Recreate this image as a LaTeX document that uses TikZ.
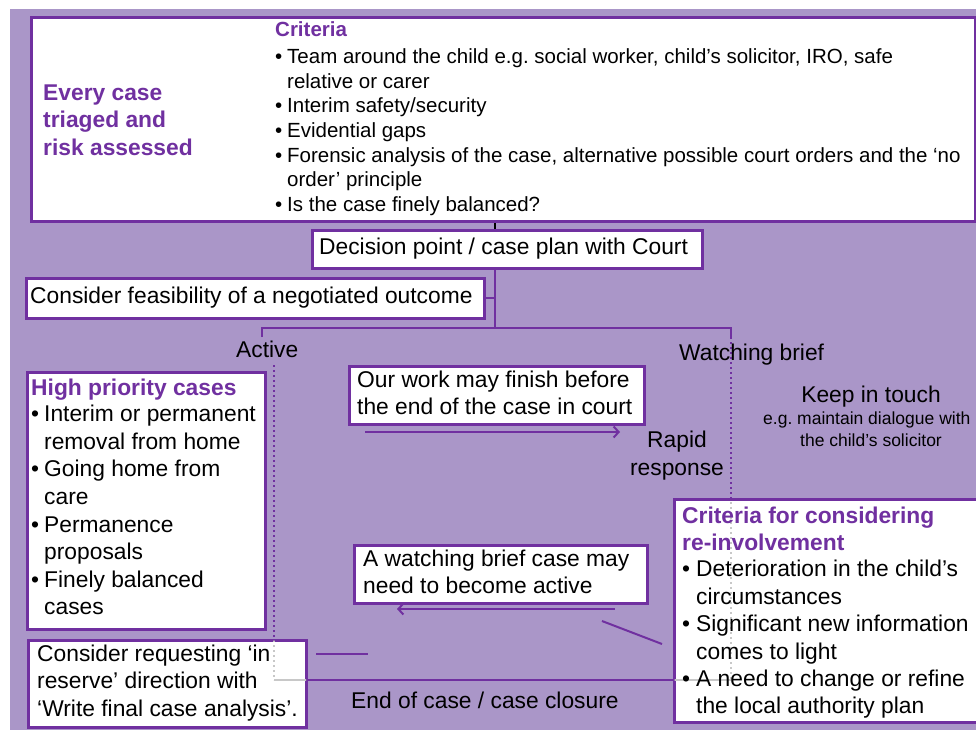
\documentclass[tikz,border=0pt]{standalone}
\usepackage{fontspec}
\setmainfont{Liberation Sans}
\usetikzlibrary{arrows.meta}
\frenchspacing

\definecolor{bgLav}{RGB}{170,150,200}
\definecolor{deepP}{RGB}{112,48,160}
\definecolor{shadeG}{RGB}{200,200,200}

\newcommand\bigtxt{\fontsize{22.8}{27.5}\selectfont}
\newcommand\midtxt{\fontsize{20.5}{24.7}\selectfont}
\newcommand\smalltxt{\fontsize{17.5}{22.5}\selectfont}
\newcommand\bul[1]{\makebox[#1][l]{•}}

\begin{document}
\begin{tikzpicture}[x=1pt,y=-1pt,
  box/.style={draw=deepP, line width=2.6pt, fill=white, inner sep=0pt,
              anchor=north west, shape=rectangle},
  conn/.style={draw=deepP, line width=2pt},
  dotline/.style={draw=deepP, line width=2pt, dash pattern=on 2pt off 3pt},
  greyline/.style={draw=shadeG, line width=2pt},
  greydot/.style={draw=shadeG, line width=2pt, dash pattern=on 2pt off 3pt},
  txt/.style={inner sep=0pt, anchor=base west},
  ctxt/.style={inner sep=0pt, anchor=base},
  head/.style={text=deepP, font=\bfseries},
  arr/.style={conn, -{Straight Barb[length=5pt,width=11pt,line width=2pt]}}]

\useasboundingbox (0,0) rectangle (976,729);
\clip (0,0) rectangle (976,729);

% background panel
\fill[bgLav] (10,9) rectangle (980,735);

% fixed points of the connectors
\coordinate (trunk) at (495,0);
\coordinate (split) at (495,328);
\coordinate (actStub) at (262,337);
\coordinate (watchStub) at (731,337);
\coordinate (actDot) at (274,365);
\coordinate (loopL) at (274,680);
\coordinate (loopR) at (731,680);
\coordinate (dashA) at (316,654);
\coordinate (dashB) at (368,654);
\coordinate (slantA) at (602,621);
\coordinate (slantB) at (662,644);
\coordinate (fwdA) at (365,432);
\coordinate (fwdB) at (620,432);
\coordinate (backA) at (615,609);
\coordinate (backB) at (397,609);

% boxes
\node[box, line width=3pt, minimum width=944pt, minimum height=204pt] (triage) at (30,16) {};
\node[box, minimum width=390pt, minimum height=38pt] (decision) at (311,229) {};
\node[box, minimum width=458pt, minimum height=40pt] (feasible) at (25,277) {};

% connectors below the decision point
\draw[black, line width=1.6pt] (triage.south -| trunk) -- (decision.north -| trunk);
\draw[conn] (decision.south -| trunk) -- (split);
\draw[conn] (feasible.east) -- (feasible.east -| trunk);
\draw[conn] (actStub) -- (actStub |- split) -- (watchStub |- split) -- (watchStub);
\draw[dotline] (actDot) -- (loopL);
\draw[dotline] (watchStub) -- (loopR);
\draw[conn] (loopL) -- (loopR);
\draw[conn] (dashA) -- (dashB);
\draw[conn] (slantA) -- (slantB);
\draw[arr] (fwdA) -- (fwdB);
\draw[arr] (backA) -- (backB);

% remaining boxes
\node[box, minimum width=295pt, minimum height=58pt] (ourwork) at (348,365) {};
\node[box, minimum width=238pt, minimum height=257pt] (highprio) at (26,371) {};
\node[box, minimum width=278pt, minimum height=87pt] (request) at (27,639) {};
\node[box, minimum width=293pt, minimum height=58pt] (watchcase) at (353,544) {};
\node[box, minimum width=320pt, minimum height=223pt] (reinvolve) at (673,498) {};

% the loop shows faintly through the white boxes
\begin{scope}
  \clip ([shift={(1.5,1.5)}]request.north west) rectangle ([shift={(-1.5,-1.5)}]request.south east)
        ([shift={(1.5,1.5)}]reinvolve.north west) rectangle ([shift={(-1.5,-1.5)}]reinvolve.south east);
  \draw[greydot] (actDot) -- (loopL);
  \draw[greydot] (watchStub) -- (loopR);
  \draw[greyline] (loopL) -- (loopR);
\end{scope}

% texts: top box
\node[txt, head] (triageHead) at (43,100)
  {\parbox[t]{200pt}{\bigtxt\bfseries Every case\\triaged and\\risk assessed}};
\node[txt, head] (critHead) at (275,36.5) {\midtxt\bfseries Criteria};
\node[txt] (critList) at (275,63.3)
  {\parbox[t]{700pt}{\midtxt
   \bul{12pt}Team around the child e.g. social worker, child’s solicitor, IRO, safe\\
   \hspace*{12pt}relative or carer\\
   \bul{12pt}Interim safety/security\\
   \bul{12pt}Evidential gaps\\
   \bul{12pt}Forensic analysis of the case, alternative possible court orders and the ‘no\\
   \hspace*{12pt}order’ principle\\
   \bul{12pt}Is the case finely balanced?}};

% texts: decision stage
\node[txt] (decisionText) at (319,254.3) {\bigtxt Decision point / case plan with Court};
\node[txt] (feasibleText) at (30,303.3) {\bigtxt Consider feasibility of a negotiated outcome};
\node[txt] (activeText) at (236,357.3) {\bigtxt Active};
\node[txt] (watchText) at (679,360.7) {\bigtxt Watching brief};

% texts: watching brief side
\node[ctxt] (keepText) at (871,402.7) {\bigtxt Keep in touch};
\node[txt] (keepNoteA) at (763,424) {\smalltxt e.g. maintain dialogue with};
\node[ctxt] (keepNoteB) at (871,446.7) {\smalltxt the child’s solicitor};
\node[txt] (ourworkText) at (357,387.3)
  {\parbox[t]{300pt}{\bigtxt Our work may finish before\\the end of the case in court}};
\node[ctxt] (rapidText) at (677,447.7)
  {\parbox[t]{120pt}{\centering\bigtxt Rapid\\response}};

% texts: active side
\node[txt, head] (highHead) at (31,395) {\bigtxt\bfseries High priority cases};
\node[txt] (highList) at (31,421.7)
  {\parbox[t]{260pt}{\fontsize{22.8}{27.6}\selectfont
   \bul{13pt}Interim or permanent\\
   \hspace*{13pt}removal from home\\
   \bul{13pt}Going home from\\
   \hspace*{13pt}care\\
   \bul{13pt}Permanence\\
   \hspace*{13pt}proposals\\
   \bul{13pt}Finely balanced\\
   \hspace*{13pt}cases}};
\node[txt] (requestText) at (37,661.7)
  {\parbox[t]{300pt}{\fontsize{22.8}{27.2}\selectfont Consider requesting ‘in\\reserve’ direction with\\‘Write final case analysis’.}};
\node[txt] (watchcaseText) at (363,566.7)
  {\parbox[t]{300pt}{\fontsize{22.8}{26.6}\selectfont A watching brief case may\\need to become active}};
\node[txt] (endText) at (351,708.3) {\bigtxt End of case / case closure};

% texts: re-involvement criteria
\node[txt, head] (reHead) at (682,523.3)
  {\parbox[t]{300pt}{\fontsize{22.8}{26.7}\selectfont\bfseries Criteria for considering\\re-involvement}};
\node[txt] (reList) at (682,576.7)
  {\parbox[t]{320pt}{\fontsize{22.8}{27.45}\selectfont
   \bul{14pt}Deterioration in the child’s\\
   \hspace*{14pt}circumstances\\
   \bul{14pt}Significant new information\\
   \hspace*{14pt}comes to light\\
   \bul{14pt}A need to change or refine\\
   \hspace*{14pt}the local authority plan}};
\end{tikzpicture}
\end{document}
